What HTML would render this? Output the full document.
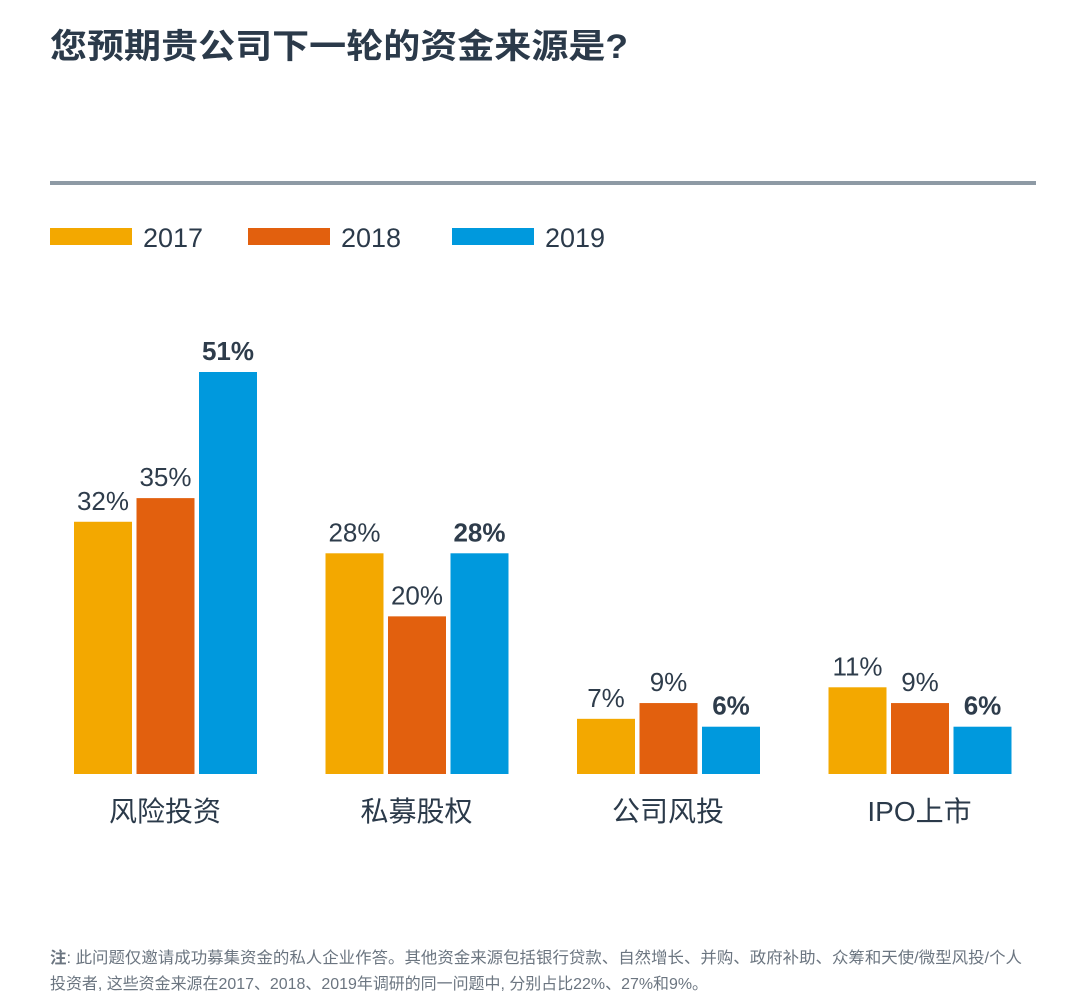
<!DOCTYPE html>
<html><head><meta charset="utf-8"><style>
body{margin:0;background:#fff;width:1080px;height:1007px;overflow:hidden;font-family:"Liberation Sans","Noto Sans CJK SC",sans-serif;color:#2b3a4a}
svg{position:absolute;left:0;top:0}
</style></head><body>
<svg width="1080" height="1007" id="c" font-family="Liberation Sans, Noto Sans CJK SC, sans-serif">
<text x="50" y="58" font-size="34" font-weight="bold" fill="#2b3a4a" textLength="578" lengthAdjust="spacingAndGlyphs">您预期贵公司下一轮的资金来源是?</text>
<rect x="50" y="181" width="986" height="4" fill="#8e9aa5"/>
<g id="legend"></g>
<g id="bars"></g>
<text x="50" y="963" font-size="16" fill="#6b7580" textLength="972" lengthAdjust="spacingAndGlyphs"><tspan font-weight="bold">注</tspan>: 此问题仅邀请成功募集资金的私人企业作答。其他资金来源包括银行贷款、自然增长、并购、政府补助、众筹和天使/微型风投/个人</text>
<text x="50" y="989" font-size="16" fill="#6b7580" textLength="658" lengthAdjust="spacingAndGlyphs">投资者, 这些资金来源在2017、2018、2019年调研的同一问题中, 分别占比22%、27%和9%。</text>
</svg>
<script>
const categories=["风险投资","私募股权","公司风投","IPO上市"];
const years=["2017","2018","2019"];
const s2017=[32,28,7,11];
const s2018=[35,20,9,9];
const s2019=[51,28,6,6];
const series=[s2017,s2018,s2019];
const colors=["#f3a800","#e2600e","#0099dd"];
const NS="http://www.w3.org/2000/svg";
const base=774, pxPer=402/51;
const y=v=>base-v*pxPer;
const groupX=i=>74+i*251.5;
const barW=58, step=62.5;
function mk(tag,attrs,parent){const e=document.createElementNS(NS,tag);for(const k in attrs)e.setAttribute(k,attrs[k]);parent.appendChild(e);return e;}
const bars=document.getElementById('bars');
categories.forEach((c,i)=>{
  series.forEach((s,j)=>{
    const x=groupX(i)+j*step;
    const r=mk('rect',{x:x,y:y(s[i]),width:barW,height:base-y(s[i]),fill:colors[j]},bars);
    
    
    const t=mk('text',{x:x+barW/2,y:y(s[i])-12,'text-anchor':'middle','font-size':26,fill:'#2e3c4b','font-weight':j==2?'bold':'normal'},bars);
    t.textContent=s[i]+'%';
    
    
  });
  const l=mk('text',{x:groupX(i)+91,y:821,'text-anchor':'middle','font-size':28,fill:'#2b3a4a'},bars);
  l.textContent=c;
  
  
});
const lg=document.getElementById('legend');
const lx=[50,248,452];
years.forEach((yr,j)=>{
  const r=mk('rect',{x:lx[j],y:228,width:82,height:17,fill:colors[j]},lg);
  
  
  const t=mk('text',{x:lx[j]+93,y:247,'font-size':27,fill:'#2b3a4a'},lg);
  t.textContent=yr;
  
  
});
</script>
</body></html>
